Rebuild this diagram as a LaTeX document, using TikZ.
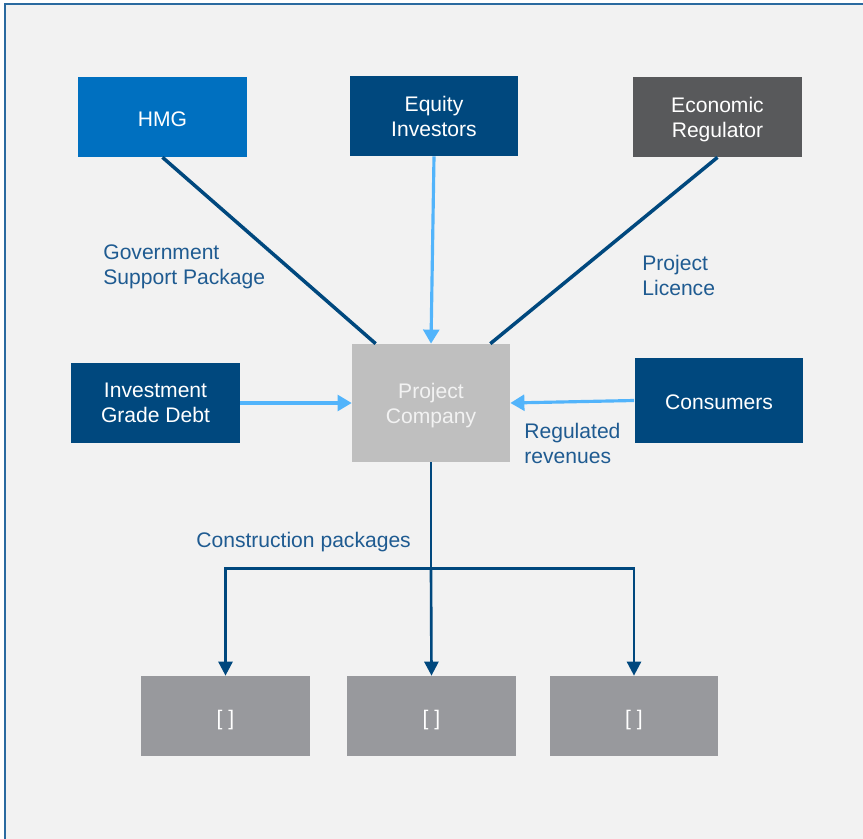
\documentclass[tikz,border=0pt]{standalone}
\usepackage{fontspec}
\setmainfont{Liberation Sans}
\usetikzlibrary{arrows.meta}

\definecolor{hmgblue}{HTML}{0070C0}
\definecolor{navy}{HTML}{00487E}
\definecolor{regulatorgrey}{HTML}{58595B}
\definecolor{companygrey}{HTML}{BFBFBF}
\definecolor{packagegrey}{HTML}{98999D}
\definecolor{flowblue}{HTML}{52B4FB}
\definecolor{labelblue}{HTML}{1F5B91}
\definecolor{panel}{HTML}{F2F2F2}
\definecolor{frame}{HTML}{2A6AA0}

\tikzset{
  party/.style={rectangle, minimum width=3.38cm, minimum height=1.6cm, inner sep=0pt,
    align=center, text=white, font=\fontsize{12}{14.2}\selectfont, text depth=0pt,
    execute at begin node={\rule{0pt}{0.9em}}},
  caption/.style={anchor=west, align=left, inner sep=0pt, text=labelblue,
    font=\fontsize{12}{14.2}\selectfont},
  bond/.style={draw=navy, line width=2pt},
  flow/.style={draw=flowblue, line width=1.8pt, -{Triangle[length=8pt, width=9pt]}},
  works/.style={draw=navy, line width=1.5pt, -{Triangle[length=8pt, width=8pt]}}
}

\begin{document}
\begin{tikzpicture}[x=0.02cm, y=-0.02cm]

\useasboundingbox (0, 0) rectangle (863, 839);
\clip (0, 0) rectangle (863, 839);
\filldraw[fill=panel, draw=frame, line width=0.9pt] (5, 4) rectangle (900, 880);

\node[party, fill=hmgblue] (hmg) at (162.5, 117) {HMG};
\node[party, fill=navy] (equity) at (434, 116) {Equity\\Investors};
\node[party, fill=regulatorgrey] (regulator) at (717.5, 117) {Economic\\Regulator};
\node[party, fill=companygrey, text=panel, minimum width=3.16cm, minimum height=2.36cm] (company) at (431, 403) {Project\\Company};
\node[party, fill=navy] (debt) at (155.5, 403) {Investment\\Grade Debt};
\node[party, fill=navy, minimum height=1.7cm] (consumers) at (719, 400.5) {Consumers};
\node[party, fill=packagegrey] (package_a) at (225.5, 716) {[ ]};
\node[party, fill=packagegrey] (package_b) at (431.5, 716) {[ ]};
\node[party, fill=packagegrey] (package_c) at (634, 716) {[ ]};

\node[caption] (support) at (103, 267) {Government\\Support Package};
\node[caption] (licence) at (642, 275) {Project\\Licence};
\node[caption] (revenues) at (524, 443) {Regulated\\revenues};
\node[caption] (construction) at (196, 542) {Construction packages};

\draw[bond] (hmg.south) -- (company.133.5);
\draw[bond] (regulator.south) -- (company.45);
\draw[flow] (equity.south) -- (company.north);
\draw[flow] (debt.east) -- (company.west);
\draw[flow] (consumers.west) -- (company.east);

\draw[bond, line width=1.5pt] (company.south) -- ++(0, 106) coordinate (split);
\draw[works] (split) -| (package_a.north);
\draw[works] (split) -- (package_b.north);
\draw[works] (split) -| (package_c.north);

\end{tikzpicture}
\end{document}
